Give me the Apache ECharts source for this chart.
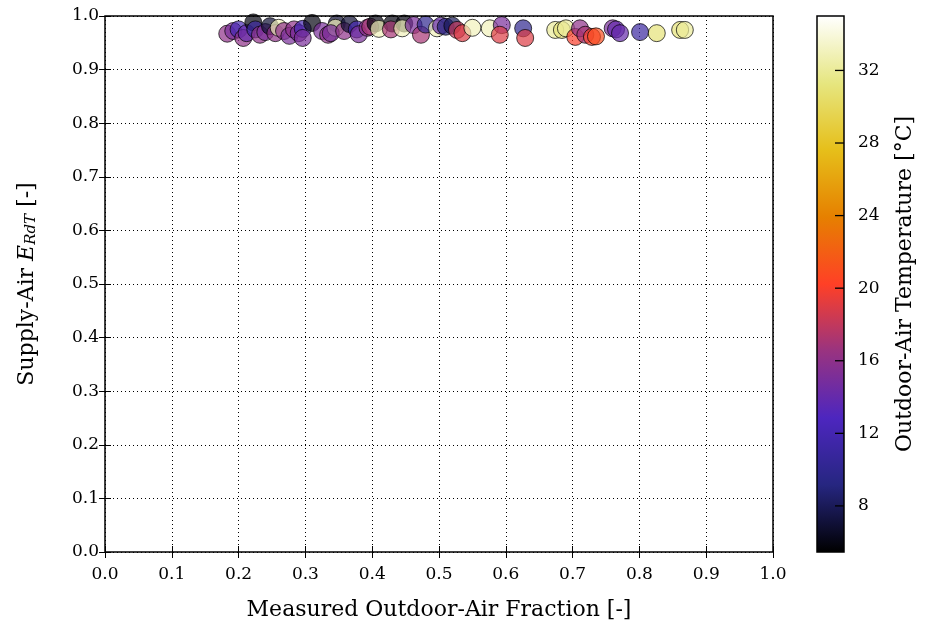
<!DOCTYPE html>
<html>
<head>
<meta charset="utf-8">
<script src="https://cdn.jsdelivr.net/npm/echarts@6/dist/echarts.min.js"></script>
<style>html,body{margin:0;padding:0;background:#fff;}#c{width:926px;height:632px;}</style>
</head>
<body>
<div id="c"></div>
<script>
// Measured outdoor-air fraction [-]
var fraction = [0.183,0.192,0.200,0.207,0.212,0.222,0.225,0.232,0.240,0.247,0.255,0.260,0.268,0.276,0.283,0.290,0.296,0.296,0.310,0.325,0.334,0.347,0.345,0.338,0.358,0.366,0.377,0.380,0.393,0.397,0.405,0.410,0.430,0.428,0.448,0.445,0.462,0.473,0.480,0.497,0.503,0.510,0.520,0.527,0.535,0.550,0.576,0.594,0.591,0.626,0.629,0.674,0.684,0.690,0.704,0.711,0.719,0.729,0.735,0.760,0.765,0.771,0.801,0.826,0.861,0.868];
// Supply-air E_RdT [-]
var erdt = [0.967,0.972,0.975,0.959,0.968,0.988,0.975,0.965,0.970,0.981,0.968,0.978,0.972,0.963,0.975,0.968,0.976,0.959,0.987,0.972,0.965,0.986,0.978,0.968,0.972,0.985,0.975,0.966,0.978,0.980,0.986,0.976,0.986,0.975,0.986,0.977,0.983,0.965,0.984,0.977,0.982,0.980,0.982,0.974,0.968,0.978,0.977,0.983,0.965,0.977,0.959,0.974,0.974,0.977,0.961,0.977,0.965,0.961,0.962,0.977,0.975,0.968,0.970,0.968,0.974,0.974];
// Outdoor-air temperature [°C]
var temperature = [16,15,12,16,14,6,11,16,15,7,16,33,16,15,16,15,12,15,6,15,16,7,33,15,16,7,12,15,16,17,6,33,6,17,6,33,15,17,10,33,14,9,8,18,19,33,33,15,19,10,19,32,31,32,20,16,17,20,21,15,14,14,11,31,31,32];
var xTicks = [0,0.1,0.2,0.3,0.4,0.5,0.6,0.7,0.8,0.9,1.0];
var yTicks = [0,0.1,0.2,0.3,0.4,0.5,0.6,0.7,0.8,0.9,1.0];
var cbarTicks = [8,12,16,20,24,28,32];
var tempMin = 5.46, tempMax = 35.0;
var cmr = ['#000000','#262680','#4d26bf','#993380','#ff4026','#e68000','#e6bf1a','#e6e680','#ffffff'];

var CB_LEFT = 817, CB_RIGHT_GAP = 82, W = 926, TICK_LEN = 9;
var points = fraction.map(function(x,i){return [x, erdt[i], temperature[i]];});
var gradStops = cmr.map(function(c,i){return {offset:i/(cmr.length-1), color:c};});
var FONT = 'DejaVu Serif';
var chart = echarts.init(document.getElementById('c'));
var lab = {color:'#000', fontFamily:FONT, fontSize:17};
chart.setOption({
  animation:false,
  backgroundColor:'#fff',
  grid:[
    {left:105, right:153, top:16, bottom:80, show:true, borderColor:'#000', borderWidth:1.5, backgroundColor:'transparent', z:10, outerBoundsMode:'none', containLabel:false},
    {left:CB_LEFT, right:CB_RIGHT_GAP, top:16, bottom:80, show:true, borderColor:'#000', borderWidth:1.5, backgroundColor:'transparent', z:10, outerBoundsMode:'none', containLabel:false}
  ],
  visualMap:{
    type:'continuous', seriesIndex:0, dimension:2, min:tempMin, max:tempMax,
    inRange:{color:cmr}, show:false
  },
  xAxis:[
    {gridIndex:0, type:'value', min:0, max:1, interval:0.1,
     axisLine:{show:false}, axisTick:{inside:true, length:6, lineStyle:{color:'#000'}},
     axisLabel:Object.assign({margin:14, formatter:function(v){return v.toFixed(1);}}, lab),
     splitLine:{show:true, lineStyle:{color:'#000', type:[1,3], width:1}},
     name:'Measured Outdoor-Air Fraction [-]', nameLocation:'middle', nameGap:47,
     nameTextStyle:{color:'#000', fontFamily:FONT, fontSize:22}},
    {gridIndex:0, type:'value', min:0, max:1, interval:0.1, position:'top',
     axisLine:{show:false}, axisTick:{inside:true, length:6, lineStyle:{color:'#000'}},
     axisLabel:{show:false}, splitLine:{show:false}},
    {gridIndex:1, type:'category', data:['cbar'], show:false, boundaryGap:true}
  ],
  yAxis:[
    {gridIndex:0, type:'value', min:0, max:1, interval:0.1,
     axisLine:{show:false}, axisTick:{inside:true, length:6, lineStyle:{color:'#000'}},
     axisLabel:Object.assign({margin:6, formatter:function(v){return v.toFixed(1);}}, lab),
     splitLine:{show:true, lineStyle:{color:'#000', type:[1,3], width:1}},
     name:'{n|Supply-Air }{e|E}{s|RdT}{n| [-]}', nameLocation:'middle', nameGap:66, nameRotate:90,
     nameTextStyle:{color:'#000', fontFamily:FONT, fontSize:22, rich:{
       n:{fontFamily:FONT, fontSize:22, color:'#000'},
       e:{fontFamily:FONT, fontSize:22, fontStyle:'italic', color:'#000'},
       s:{fontFamily:FONT, fontSize:15, fontStyle:'italic', color:'#000', padding:[9,0,0,0]}
     }}},
    {gridIndex:0, type:'value', min:0, max:1, interval:0.1, position:'right',
     axisLine:{show:false}, axisTick:{inside:true, length:6, lineStyle:{color:'#000'}},
     axisLabel:{show:false}, splitLine:{show:false}},
    {gridIndex:1, type:'value', min:tempMin, max:tempMax, position:'right',
     axisLine:{show:false, onZero:false}, axisTick:{show:false},
     axisLabel:Object.assign({margin:14, customValues:cbarTicks}, lab),
     splitLine:{show:false},
     name:'Outdoor-Air Temperature [°C]', nameLocation:'middle', nameGap:50, nameRotate:90,
     nameTextStyle:{color:'#000', fontFamily:FONT, fontSize:22}}
  ],
  series:[
    {type:'scatter', xAxisIndex:0, yAxisIndex:0, data:points, symbolSize:17, clip:true,
     itemStyle:{opacity:0.7, borderColor:'#000', borderWidth:1}, emphasis:{disabled:true}, z:3},
    {type:'bar', xAxisIndex:2, yAxisIndex:2, data:[tempMax], barWidth:'100%', silent:true, z:1,
     itemStyle:{color:new echarts.graphic.LinearGradient(0,1,0,0,gradStops)}}
  ]
});

// Colour-bar tick marks, placed through the colour-bar axis scale
var cbRight = W - CB_RIGHT_GAP;
var tickEls = cbarTicks.map(function(v){
  var py = chart.convertToPixel({yAxisIndex:2}, v);
  return {type:'line', z:100, silent:true,
          shape:{x1:cbRight - TICK_LEN, y1:py, x2:cbRight, y2:py},
          style:{stroke:'#000', lineWidth:1.3}};
});
chart.setOption({graphic:{elements:tickEls}});
</script>
</body>
</html>
